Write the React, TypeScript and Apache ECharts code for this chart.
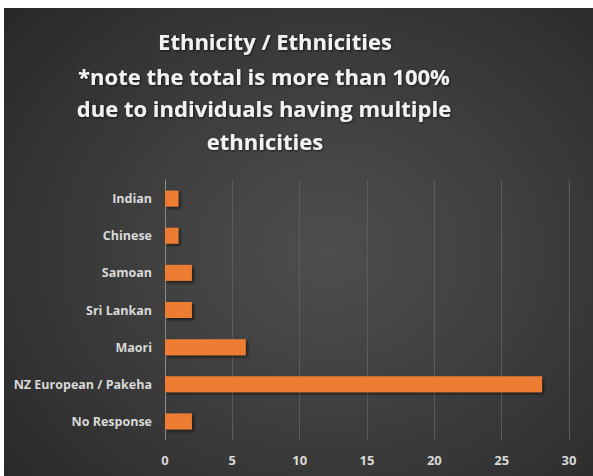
import React, { useEffect, useRef } from "react";
import * as echarts from "echarts";

const categories = ["No Response", "NZ European / Pakeha", "Maori", "Sri Lankan", "Samoan", "Chinese", "Indian"];
const values = [2, 28, 6, 2, 2, 1, 1];
const titleLines = [
  "Ethnicity / Ethnicities",
  "*note the total is more than 100%",
  "due to individuals having multiple",
  "ethnicities",
];
const titleX = [271, 260, 260, 261];
const titleY = [33, 68, 100, 133];

export default function App() {
  const ref = useRef<HTMLDivElement>(null);
  useEffect(() => {
    if (!ref.current) return;
    const chart = echarts.init(ref.current, null, { renderer: "svg" });
    chart.setOption({
      animation: false,
      backgroundColor: "transparent",
      graphic: titleLines.map((t, i) => ({
        type: "text",
        x: titleX[i],
        y: titleY[i],
        silent: true,
        style: {
          text: t,
          fill: "#f2f2f2",
          font: "bold 22px 'Open Sans'",
          textAlign: "center",
          textVerticalAlign: "middle",
          textShadowColor: "rgba(0,0,0,0.6)",
          textShadowBlur: 2,
          textShadowOffsetX: 1,
          textShadowOffsetY: 1,
        },
      })),
      grid: { left: 161, right: 24, top: 172, bottom: 36, containLabel: false },
      xAxis: {
        type: "value",
        min: 0,
        max: 30,
        interval: 5,
        axisLine: { show: false },
        axisTick: { show: false },
        splitLine: { show: true, lineStyle: { color: "#5c5c5c", width: 1 } },
        axisLabel: {
          color: "#d9d9d9",
          fontFamily: "Open Sans",
          fontWeight: "bold",
          fontSize: 13,
          margin: 13,
        },
      },
      yAxis: {
        type: "category",
        data: categories,
        axisLine: { show: true, lineStyle: { color: "#8c8c8c", width: 1 } },
        axisTick: { show: false },
        axisLabel: {
          color: "#d9d9d9",
          fontFamily: "Open Sans",
          fontWeight: "bold",
          fontSize: 12.5,
          margin: 13,
        },
      },
      series: [
        {
          type: "bar",
          data: values,
          barWidth: 16,
          itemStyle: {
            color: "#ed7d31",
            shadowColor: "rgba(0,0,0,0.55)",
            shadowBlur: 3,
            shadowOffsetX: 2,
            shadowOffsetY: 2,
          },
        },
      ],
    });
    return () => chart.dispose();
  }, []);
  return (
    <div
      ref={ref}
      style={{
        position: "absolute",
        left: 4,
        top: 8,
        width: 589,
        height: 468,
        background: "radial-gradient(ellipse 75% 80% at 55% 52%, #4e4e4e 0%, #3e3e3e 45%, #272727 100%)",
      }}
    />
  );
}
